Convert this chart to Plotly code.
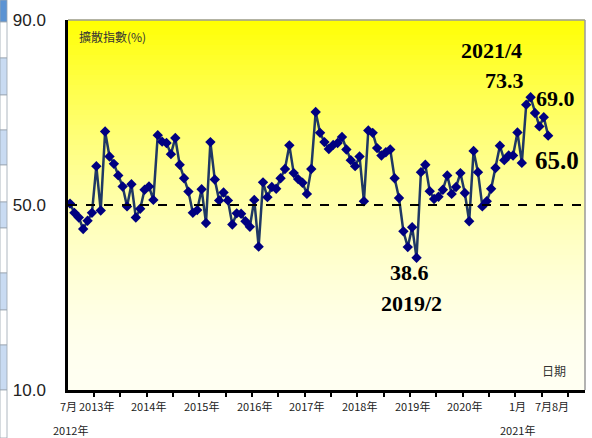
import plotly.graph_objects as go

# ---- data -------------------------------------------------------------
values = [
    50.3, 48.3, 47.3, 44.8, 46.6, 48.3, 58.4, 48.8, 65.9, 60.5, 58.9, 56.4,   # 2012/7 - 2013/6
    54.0, 49.7, 54.5, 47.3, 49.2, 53.3, 54.0, 51.1, 65.1, 63.7, 63.4, 61.0,   # 2013/7 - 2014/6
    64.5, 58.7, 55.8, 52.9, 48.3, 48.9, 53.4, 46.1, 63.6, 55.5, 51.0, 52.7,   # 2014/7 - 2015/6
    51.0, 45.8, 48.2, 48.1, 46.5, 45.3, 51.1, 41.0, 54.9, 51.7, 53.9, 53.5,   # 2015/7 - 2016/6
    55.8, 57.8, 62.9, 56.9, 55.6, 54.8, 52.4, 57.8, 70.1, 65.6, 63.6, 62.1,   # 2016/7 - 2017/6
    63.0, 63.4, 64.7, 62.0, 59.7, 58.4, 60.5, 50.8, 66.1, 65.6, 62.3, 60.7,   # 2017/7 - 2018/6
    61.4, 62.0, 55.8, 51.5, 44.3, 40.9, 45.2, 38.6, 57.1, 58.7, 53.0, 51.3,   # 2018/7 - 2019/6
    51.8, 53.3, 56.4, 52.4, 53.9, 56.9, 52.6, 46.5, 61.7, 57.1, 49.7, 50.8,   # 2019/7 - 2020/6
    53.5, 58.0, 62.8, 59.7, 60.7, 60.7, 65.7, 59.1, 71.7, 73.3, 69.9, 67.0,   # 2020/7 - 2021/6
    69.0, 65.0,                                                               # 2021/7 - 2021/8
]
months = list(range(len(values)))
baseline = 50.0

y_tick_vals = [10, 50, 90]
y_tick_text = ["10.0", "50.0", "90.0"]

# x labels: (month index, text)
x_labels_row1 = [(-0.4, "7月"), (6, "2013年"), (18, "2014年"), (30, "2015年"), (42, "2016年"),
                 (54, "2017年"), (66, "2018年"), (78, "2019年"), (90, "2020年"),
                 (102, "1月"), (107.9, "7月"), (111.8, "8月")]
x_labels_row2 = [(0, "2012年"), (102, "2021年")]

# ---- geometry -----------------------------------------------------------
W, H = 592, 438
ML, MR, MT, MB = 68, 7, 20, 48
PW, PH = W - ML - MR, H - MT - MB
X_RANGE = [-0.46, 117.4]

def px_to_paper_x(px):
    return (px - ML) / PW

def px_to_paper_y(py):
    return (H - MB - py) / PH

fig = go.Figure()

# gradient background (yellow top -> near white bottom)
shapes = []
N = 74
for i in range(N):
    t = (i + 0.5) / N
    b = int(round(242 * (1 - (1 - t) ** 1.8)))
    shapes.append(dict(type="rect", xref="paper", yref="paper",
                       x0=0, x1=1, y0=1 - (i + 1) / N, y1=1 - i / N + 0.001,
                       fillcolor=f"rgb(255,255,{b})", line=dict(width=0), layer="below"))

# gray frame top & right
shapes.append(dict(type="line", xref="paper", yref="paper", x0=0, x1=1, y0=1, y1=1,
                   line=dict(color="#9a9a9a", width=1.5)))
shapes.append(dict(type="line", xref="paper", yref="paper", x0=1, x1=1, y0=0, y1=1,
                   line=dict(color="#9a9a9a", width=1.5)))

# 50 reference line
shapes.append(dict(type="line", xref="paper", yref="y", x0=0, x1=1, y0=baseline, y1=baseline,
                   line=dict(color="black", width=2, dash="dash"), layer="above"))

# spreadsheet strip at far left
cells = [(0, 22, "#5b93d3"), (22, 58, "white"), (58, 95, "#c9dbf2"), (95, 130, "white"),
         (130, 165, "#c9dbf2"), (165, 202, "white"), (202, 228, "#c9dbf2"), (228, 273, "white"),
         (273, 310, "#c9dbf2"), (310, 345, "white"), (345, 390, "#c9dbf2"), (390, 438, "white")]
for y0, y1, c in cells:
    shapes.append(dict(type="rect", xref="paper", yref="paper",
                       x0=px_to_paper_x(0), x1=px_to_paper_x(7),
                       y0=px_to_paper_y(y1), y1=px_to_paper_y(y0),
                       fillcolor=c, line=dict(color="#9aa4b0", width=0.8)))

fig.add_trace(go.Scatter(
    x=months, y=values, mode="lines+markers",
    line=dict(color="#1f3864", width=2.5),
    marker=dict(symbol="diamond", size=8, color="#000080", line=dict(width=0)),
    hoverinfo="skip", showlegend=False,
))

annotations = []
for xi, txt in x_labels_row1:
    annotations.append(dict(x=xi, y=px_to_paper_y(406), xref="x", yref="paper", text=txt,
                            showarrow=False, font=dict(family="Noto Sans CJK TC", size=11, color="#222"),
                            xanchor="center", yanchor="middle"))
for xi, txt in x_labels_row2:
    annotations.append(dict(x=xi, y=px_to_paper_y(430), xref="x", yref="paper", text=txt,
                            showarrow=False, font=dict(family="Noto Sans CJK TC", size=11, color="#222"),
                            xanchor="center", yanchor="middle"))

annotations.append(dict(x=px_to_paper_x(77), y=px_to_paper_y(36), xref="paper", yref="paper",
                        text="擴散指數(%)", showarrow=False, xanchor="left", yanchor="middle",
                        font=dict(family="Noto Sans CJK TC", size=12, color="#333")))
annotations.append(dict(x=px_to_paper_x(554), y=px_to_paper_y(370), xref="paper", yref="paper",
                        text="日期", showarrow=False, xanchor="center", yanchor="middle",
                        font=dict(family="Noto Sans CJK TC", size=12, color="#333")))

serif = dict(family="Liberation Serif", color="black")
big = [("<b>2021/4</b>", 96.0, 83.5, 22), ("<b>73.3</b>", 99.0, 77.0, 22),
       ("<b>69.0</b>", 110.6, 73.1, 22), ("<b>65.0</b>", 111.0, 59.7, 25),
       ("<b>38.6</b>", 77.5, 35.5, 22), ("<b>2019/2</b>", 77.8, 28.8, 22)]
for txt, xi, yv, sz in big:
    annotations.append(dict(x=xi, y=yv, xref="x", yref="y", text=txt, showarrow=False,
                            xanchor="center", yanchor="middle", font=dict(size=sz, **serif)))

fig.update_layout(
    width=W, height=H, margin=dict(l=ML, r=MR, t=MT, b=MB, pad=0),
    paper_bgcolor="white", plot_bgcolor="white",
    shapes=shapes, annotations=annotations, showlegend=False,
    xaxis=dict(range=X_RANGE, showgrid=False, zeroline=False,
               showline=True, linecolor="black", linewidth=2.5,
               tickmode="array", tickvals=[-0.5 + 6 * k for k in range(20)],
               ticks="outside", ticklen=4, tickwidth=2, tickcolor="black",
               showticklabels=False, fixedrange=True),
    yaxis=dict(range=[10, 90], showgrid=False, zeroline=False,
               showline=True, linecolor="black", linewidth=2.5,
               tickmode="array", tickvals=y_tick_vals, ticktext=y_tick_text,
               ticks="inside", ticklen=5, tickwidth=2, tickcolor="black",
               ticklabelstandoff=16,
               tickfont=dict(family="Liberation Sans", size=17, color="#222"),
               fixedrange=True),
)

fig.write_html("out.html", config={"displayModeBar": False},
               post_script="document.body.style.margin='0px';document.body.style.overflow='hidden';")
